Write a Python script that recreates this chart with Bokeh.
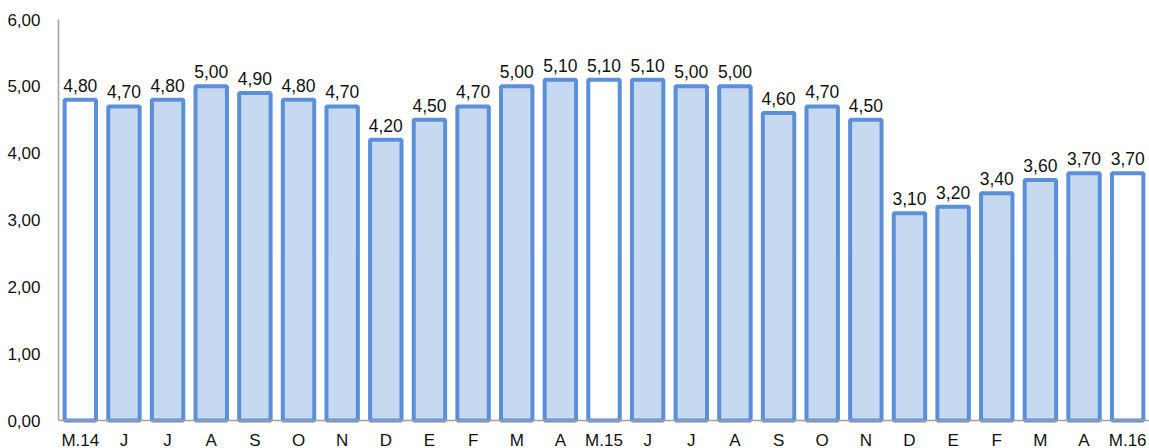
from bokeh.plotting import figure
from bokeh.models import ColumnDataSource, Range1d, FixedTicker, Span
from bokeh.core.properties import value
from bokeh.embed import file_html
from bokeh.resources import INLINE

labels = ["M.14", "J", "J", "A", "S", "O", "N", "D", "E", "F", "M", "A", "M.15",
          "J", "J", "A", "S", "O", "N", "D", "E", "F", "M", "A", "M.16"]
values = [4.8, 4.7, 4.8, 5.0, 4.9, 4.8, 4.7, 4.2, 4.5, 4.7, 5.0, 5.1, 5.1,
          5.1, 5.0, 5.0, 4.6, 4.7, 4.5, 3.1, 3.2, 3.4, 3.6, 3.7, 3.7]
highlight = ["M.14", "M.15", "M.16"]
y_ticks = [0, 1, 2, 3, 4, 5, 6]

xs = list(range(len(labels)))
fills = ["#FFFFFF" if l in highlight else "#C6D9F1" for l in labels]
texts = [f"{v:.2f}".replace(".", ",") for v in values]
src = ColumnDataSource(dict(x=xs, top=values, fill=fills, txt=texts,
                            lab=labels, zero=[0] * len(labels)))

# layout: value 6 at 19 px from top, value 0 at 420 px, frame down to 448 px
H, TOP, ZERO = 448, 19, 420
ymax = 6
ymin = -(H - ZERO) * ymax / (ZERO - TOP)

p = figure(width=1149, height=H, output_backend="svg", toolbar_location=None,
           x_range=Range1d(-0.5, len(labels) - 0.5), y_range=Range1d(ymin, ymax),
           min_border_left=58, min_border_right=0, min_border_top=TOP, min_border_bottom=0)
p.outline_line_color = None
p.grid.grid_line_color = None
p.xaxis.visible = False

p.vbar(x="x", top="top", width=0.72, bottom=0, source=src, fill_color="fill",
       line_color="#5B8FD7", line_width=4)
p.text(x="x", y="top", text="txt", source=src, text_align="center",
       text_baseline="bottom", y_offset=-8, text_font=value("Liberation Sans"),
       text_font_size="17.5px", text_color="#111111")
p.add_layout(Span(location=0, dimension="width", line_color="#A0A0A0", line_width=1.5))
p.text(x="x", y="zero", text="lab", source=src, text_align="center",
       text_baseline="top", y_offset=10, text_font=value("Liberation Sans"),
       text_font_size="17px", text_color="#111111")

ya = p.yaxis[0]
ya.bounds = (0, ymax)
ya.ticker = FixedTicker(ticks=y_ticks)
ya.major_label_overrides = {t: f"{t:.2f}".replace(".", ",") for t in y_ticks}
ya.axis_line_color = "#A0A0A0"
ya.axis_line_width = 1.5
ya.major_tick_line_color = None
ya.minor_tick_line_color = None
ya.major_label_text_font = "Liberation Sans"
ya.major_label_text_color = "#111111"
ya.major_label_text_font_size = "17px"
ya.major_label_standoff = 12

open("out.html", "w").write(file_html(p, INLINE))
